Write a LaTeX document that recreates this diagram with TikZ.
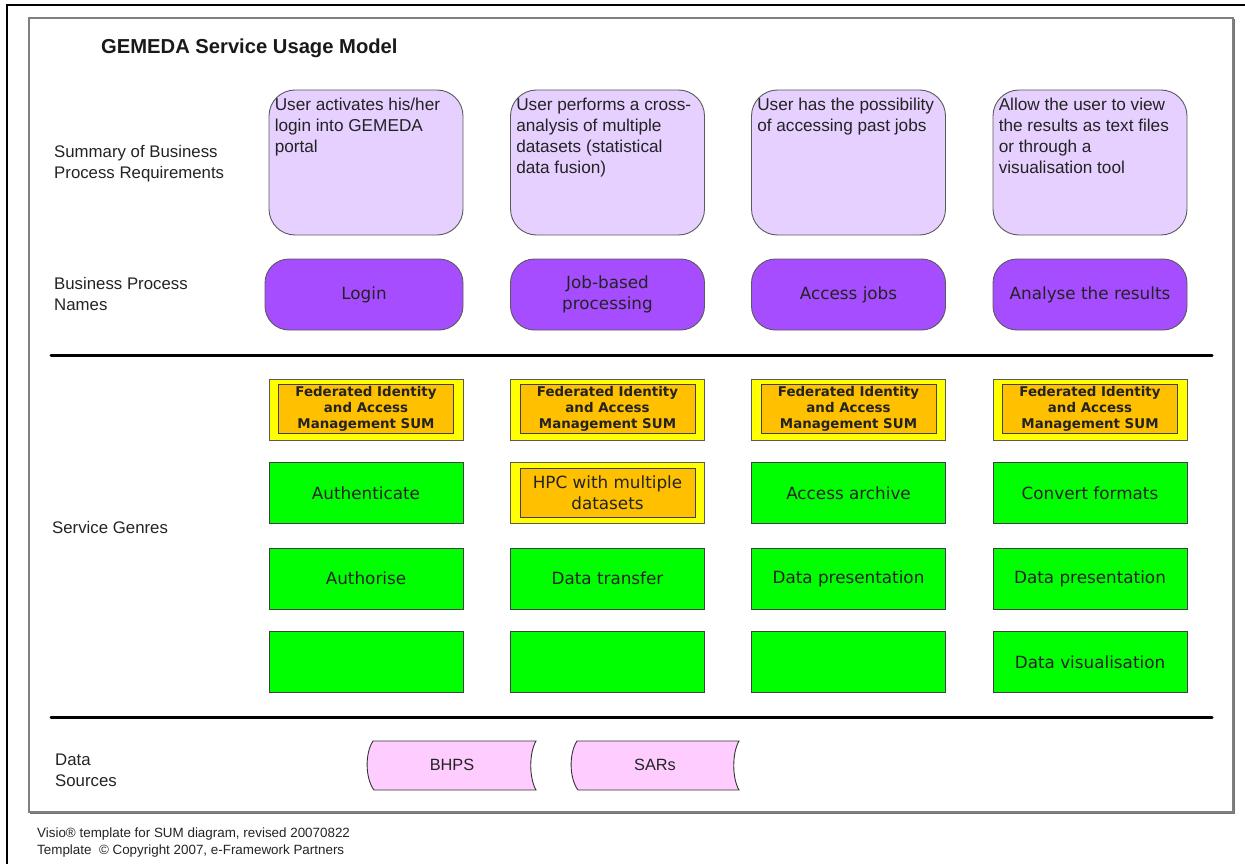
\documentclass[tikz,border=0pt]{standalone}
\usepackage{fontspec}
\setmainfont{Liberation Sans}
\newfontfamily\verd{DejaVu Sans}
\definecolor{summfill}{RGB}{230,208,255}
\definecolor{procfill}{RGB}{166,77,255}
\definecolor{greenfill}{RGB}{0,255,0}
\definecolor{yellowfill}{RGB}{255,255,0}
\definecolor{orangefill}{RGB}{255,192,0}
\definecolor{dsfill}{RGB}{255,204,255}
\definecolor{edgegrey}{RGB}{90,90,90}
\definecolor{txt}{RGB}{35,35,35}
\begin{document}
\begin{tikzpicture}[x=1pt,y=-1pt,
  lbl/.style={font=\fontsize{16.8}{21}\selectfont, text=txt, align=left, anchor=west, inner sep=0pt},
  summ/.style={draw=edgegrey, fill=summfill, rounded corners=26pt, minimum width=194pt, minimum height=145pt, inner sep=0pt, line width=0.9pt},
  summtext/.style={anchor=north west, align=left, font=\fontsize{17.2}{21}\selectfont, inner sep=0pt, text=txt},
  proc/.style={draw=edgegrey, fill=procfill, rounded corners=24pt, minimum width=194pt, minimum height=71pt, inner sep=0pt, line width=0.9pt, font=\verd\fontsize{16.8}{21}\selectfont, align=center, text=txt},
  fedout/.style={draw=edgegrey, fill=yellowfill, minimum width=194pt, minimum height=61pt, inner sep=0pt, line width=0.9pt},
  fedin/.style={draw=black!75, fill=orangefill, minimum width=175pt, inner sep=0pt, line width=0.9pt, align=center, text=txt},
  gbox/.style={draw=black!75, fill=greenfill, minimum width=194pt, minimum height=61pt, inner sep=0pt, line width=0.9pt, font=\verd\fontsize{16.8}{21}\selectfont, align=center, text=txt},
  dstext/.style={font=\fontsize{16.3}{18}\selectfont, text=txt, inner sep=0pt},
  sep/.style={line width=3pt, line cap=round, black},
  ds/.style={draw=black!80, fill=dsfill, line width=0.9pt}
]
\useasboundingbox (0,0) rectangle (1245,864);
% page border (cropped)
\coordinate (pb1) at (7,864);
\coordinate (pb2) at (7,5);
\coordinate (pb3) at (1245,5);
\draw[line width=2pt, black] (pb1) -- (pb2) -- (pb3);
% inner frame with shadow
\coordinate (fa) at (29,18);
\coordinate (fb) at (1233,812);
\draw[line width=2pt, black!55] (1234,19) -- (1234,813) -- (30,813);
\draw[line width=1.2pt, black!50] (fa) rectangle (fb);

% title
\node[anchor=west, inner sep=0pt, font=\bfseries\fontsize{20.2}{24}\selectfont, text=black!90] (title) at (101,48) {GEMEDA Service Usage Model};

% row labels
\node[lbl] (l1) at (54,163.5) {Summary of Business\\Process Requirements};
\node[lbl] (l2) at (54,293.5) {Business Process\\Names};
\node[lbl] (l3) at (52,527) {Service Genres};
\node[lbl] (l4) at (55,770.5) {Data\\Sources};

% separators
\coordinate (s1a) at (51,355);
\coordinate (s1b) at (1212,355);
\coordinate (s2a) at (51,717);
\coordinate (s2b) at (1212,717);
\draw[sep] (s1a) -- (s1b);
\draw[sep] (s2a) -- (s2b);

% summary boxes
\node[summ] (sum1) at (366,162.5) {};
\node[summ] (sum2) at (607.5,162.5) {};
\node[summ] (sum3) at (848.5,162.5) {};
\node[summ] (sum4) at (1090,162.5) {};
\node[summtext] (sum1t) at ([xshift=6pt,yshift=-8pt]sum1.north west) {User activates his/her\\login into GEMEDA\\portal};
\node[summtext] (sum2t) at ([xshift=6pt,yshift=-8pt]sum2.north west) {User performs a cross-\\analysis of multiple\\datasets (statistical\\data fusion)};
\node[summtext] (sum3t) at ([xshift=6pt,yshift=-8pt]sum3.north west) {User has the possibility\\of accessing past jobs};
\node[summtext] (sum4t) at ([xshift=6pt,yshift=-8pt]sum4.north west) {Allow the user to view\\the results as text files\\or through a\\visualisation tool};

% process names
\node[proc, minimum width=198pt] (p1) at (364,294.5) {Login};
\node[proc] (p2) at (607.5,294.5) {Job-based\\processing};
\node[proc] (p3) at (848.5,294.5) {Access jobs};
\node[proc] (p4) at (1090,294.5) {Analyse the results};

% federated identity row
\foreach \n/\x in {1/366,2/607.5,3/848.5,4/1090}{
  \node[fedout] (f\n) at (\x,410) {};
  \node[fedin, minimum height=49pt, font=\verd\bfseries\fontsize{13.4}{16}\selectfont] (f\n t) at (\x,408.5) {Federated Identity\\and Access\\Management SUM};
}

% row 2
\node[gbox] (a1) at (366,493) {Authenticate};
\node[fedout] (a2) at (607.5,493) {};
\node[fedin, minimum height=49pt, font=\verd\fontsize{16.8}{21}\selectfont] (a2t) at (607.5,492.5) {HPC with multiple\\datasets};
\node[gbox] (a3) at (848.5,493) {Access archive};
\node[gbox] (a4) at (1090,493) {Convert formats};

% row 3
\node[gbox] (b1) at (366,578.5) {Authorise};
\node[gbox] (b2) at (607.5,578.5) {Data transfer};
\node[gbox] (b3) at (848.5,578.5) {Data presentation};
\node[gbox] (b4) at (1090,578.5) {Data presentation};

% row 4
\node[gbox] (c1) at (366,662) {};
\node[gbox] (c2) at (607.5,662) {};
\node[gbox] (c3) at (848.5,662) {};
\node[gbox] (c4) at (1090,662) {Data visualisation};

% data sources
\draw[ds] (373,741) -- (536,741) .. controls (529,753) and (529,778) .. (536,790) -- (374,790) .. controls (365,778) and (365,753) .. (373,741) -- cycle;
\node[dstext] (bhps) at (452,765) {BHPS};
\draw[ds] (577,741) -- (739,741) .. controls (732,753) and (732,778) .. (739,790) -- (578,790) .. controls (569,778) and (569,753) .. (577,741) -- cycle;
\node[dstext] (sars) at (655,765) {SARs};

% footer
\node[anchor=west, inner sep=0pt, align=left, font=\fontsize{13.4}{17.5}\selectfont, text=txt] (foot) at (37,842.5) {Visio® template for SUM diagram, revised 20070822\\Template \ © Copyright 2007, e-Framework Partners};
\end{tikzpicture}
\end{document}
